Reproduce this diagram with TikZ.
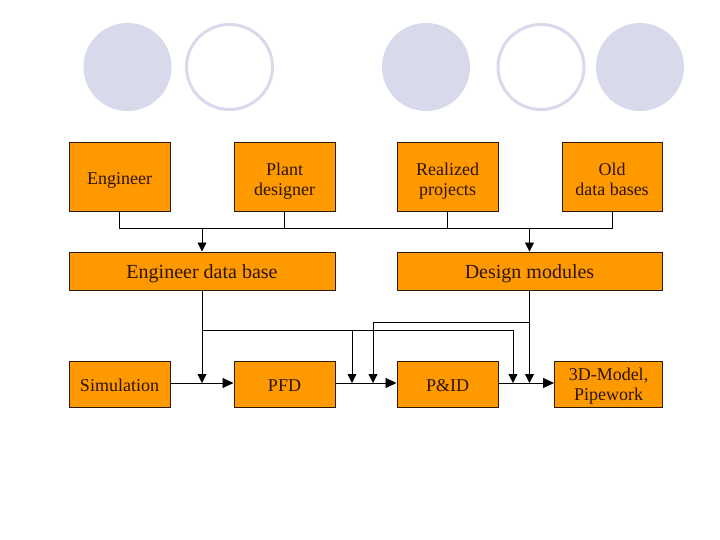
\documentclass[tikz,border=0pt]{standalone}
\usepackage{fontspec}
\setmainfont{Liberation Serif}
\newfontfamily\boxfont{Liberation Serif}
\usetikzlibrary{arrows.meta}
\definecolor{boxfill}{RGB}{255,153,0}
\definecolor{boxline}{RGB}{45,28,5}
\definecolor{txt}{RGB}{45,20,0}
\definecolor{lav}{RGB}{217,217,236}
% text block moved down by #1, keeping its nominal size for centring
\newcommand{\tx}[2]{\raisebox{-#1}[\height][\depth]{\begin{tabular}{@{}c@{}}#2\end{tabular}}}
\tikzset{
  box/.style={draw=boxline, line width=1pt, fill=boxfill, text=txt,
    inner sep=0pt, font=\boxfont\fontsize{18}{20}\selectfont},
  topbox/.style={box, minimum width=101pt, minimum height=69pt},
  midbox/.style={box, minimum width=266pt, minimum height=38pt, font=\boxfont\fontsize{20}{22}\selectfont},
  botbox/.style={box, minimum width=101pt, minimum height=46pt},
  conn/.style={draw=black, line width=0.8pt},
  arr/.style={conn, -{Triangle[length=9pt,width=9pt]}},
  harr/.style={conn, -{Triangle[length=11pt,width=10pt]}},
  dotf/.style={fill=lav, draw=none},
  doto/.style={draw=lav, line width=3pt, fill=white}
}
\begin{document}
\begin{tikzpicture}[x=1pt,y=-1pt]
\useasboundingbox (0,0) rectangle (720,540);
% decorative circles
\fill[dotf] (127.5,67) ellipse [x radius=44, y radius=44];
\draw[doto] (229.5,67) ellipse [x radius=43, y radius=42.5];
\fill[dotf] (426,67) ellipse [x radius=44, y radius=44];
\draw[doto] (541,67) ellipse [x radius=43, y radius=42.5];
\fill[dotf] (640,67) ellipse [x radius=44, y radius=44];
% boxes
\node[topbox] (eng) at (119.5,177.5) {\tx{3.5pt}{Engineer}};
\node[topbox] (plant) at (284.5,177.5) {\tx{4pt}{Plant\\designer}};
\node[topbox] (real) at (447.5,177.5) {\tx{4pt}{Realized\\projects}};
\node[topbox, minimum width=100pt] (old) at (612,177.5) {\tx{4pt}{Old\\data bases}};
\node[midbox] (edb) at (202,271) {\tx{2.6pt}{Engineer data base}};
\node[midbox, minimum width=265pt] (dm) at (529.5,271) {\tx{2.6pt}{Design modules}};
\node[botbox] (sim) at (119.5,384.5) {\tx{2.5pt}{Simulation}};
\node[botbox] (pfd) at (284.5,384.5) {\tx{2.5pt}{PFD}};
\node[botbox] (pid) at (447.5,384.5) {\tx{2.5pt}{P\&ID}};
\node[botbox, minimum width=108pt] (m3d) at (608.5,384.5) {\tx{1.5pt}{3D-Model,\\Pipework}};
% bus
\coordinate (bus) at (0,228);
\draw[conn] (eng.south) -- (eng.south |- bus) -- (old.south |- bus) -- (old.south);
\draw[conn] (plant.south) -- (plant.south |- bus);
\draw[conn] (real.south) -- (real.south |- bus);
\draw[arr] (edb.north |- bus) -- (edb.north);
\draw[arr] (dm.north |- bus) -- (dm.north);
% main flow
\coordinate (flow) at (0,383);
\draw[harr] (sim.east |- flow) -- (pfd.west |- flow);
\draw[harr] (pfd.east |- flow) -- (pid.west |- flow);
\draw[harr] (pid.east |- flow) -- (m3d.west |- flow);
% junction coordinates
\coordinate (ebr) at (0,330);
\coordinate (dbr) at (0,322.5);
\coordinate (a1) at (352,383);
\coordinate (a2) at (373,383);
\coordinate (a3) at (513,383);
% engineer data base feeds
\draw[arr] (edb.south) -- (edb.south |- flow);
\draw[arr] (edb.south |- ebr) -- (a3 |- ebr) -- (a3);
\draw[arr] (a1 |- ebr) -- (a1);
% design modules feeds
\draw[arr] (dm.south) -- (dm.south |- flow);
\draw[arr] (dm.south |- dbr) -- (a2 |- dbr) -- (a2);
\end{tikzpicture}
\end{document}
